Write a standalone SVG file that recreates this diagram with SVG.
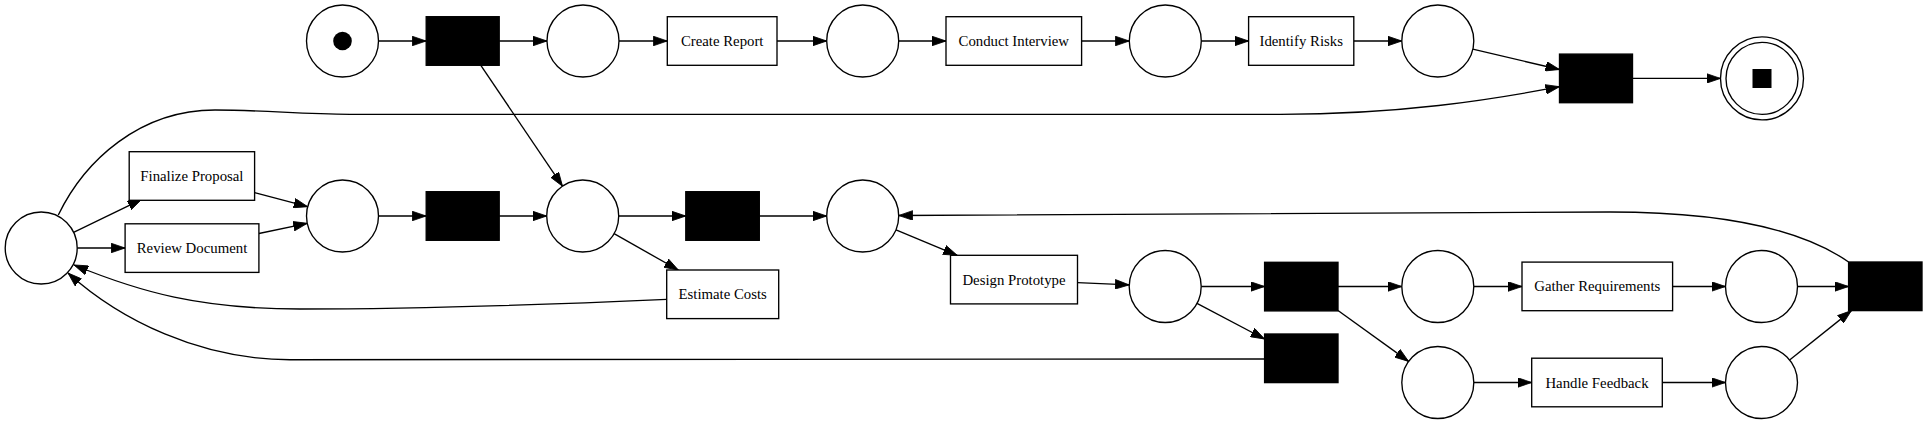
<svg xmlns="http://www.w3.org/2000/svg" width="1927" height="424" viewBox="0 0 1927 424">
<defs>
<style>
.pl{fill:#fff;stroke:#000;stroke-width:1.35}
.tr{fill:#000;stroke:#000;stroke-width:1.35}
.bx{fill:#fff;stroke:#000;stroke-width:1.35}
.lb{font-family:"Liberation Serif","Times New Roman",serif;font-size:14.8px;fill:#000;text-anchor:middle}
.ed{fill:none;stroke:#000;stroke-width:1.35;marker-end:url(#ah)}
</style>
<marker id="ah" markerUnits="userSpaceOnUse" markerWidth="14" markerHeight="10" viewBox="0 0 13.5 9.2" refX="13.5" refY="4.6" orient="auto">
<path d="M0,0 L13.5,4.6 L0,9.2 z" fill="#000" stroke="#000" stroke-width="0.8"/>
</marker>
</defs>
<rect width="1927" height="424" fill="#fff"/>
<g id="connectors">
<path class="ed" d="M378.5,41 L426.2,41"/>
<path class="ed" d="M499.2,41 L547,41"/>
<path class="ed" d="M619,41 L667.3,41"/>
<path class="ed" d="M777,41 L826.7,41"/>
<path class="ed" d="M898.7,41 L946,41"/>
<path class="ed" d="M1081.6,41 L1129.3,41"/>
<path class="ed" d="M1201.3,41 L1248.6,41"/>
<path class="ed" d="M1353.8,41 L1401.8,41"/>
<path class="ed" d="M1472.8,49.2 L1559.5,69.5"/>
<path class="ed" d="M1632.5,78.4 L1720.5,78.4"/>
<path class="ed" d="M481,65.7 L562.5,186.2"/>
<path class="ed" d="M58.3,215 C85,160 140,110 215,110 C265,110 300,114.3 350,114.3 L1280,114.3 C1400,114.3 1490,100 1559.5,86.7"/>
<path class="ed" d="M73.6,232.3 L141.7,199.3"/>
<path class="ed" d="M77.2,248 L125.1,248"/>
<path class="ed" d="M254.6,192.7 L307.7,206.7"/>
<path class="ed" d="M258.9,233.5 L307.3,223.3"/>
<path class="ed" d="M378.5,216 L426.2,216"/>
<path class="ed" d="M499.2,216 L546.7,216"/>
<path class="ed" d="M618.7,216 L685.8,216"/>
<path class="ed" d="M614.1,233.7 L678.3,270"/>
<path class="ed" d="M759.3,216 L826.7,216"/>
<path class="ed" d="M666.7,299.3 C540,305 400,309 300,309 C200,309 140,292 74,265"/>
<path class="ed" d="M896,229.8 L957.2,255.3"/>
<path class="ed" d="M1077.5,282.7 L1129.2,284.9"/>
<path class="ed" d="M1201.2,286.5 L1264.6,286.5"/>
<path class="ed" d="M1197,303.3 L1264.6,339"/>
<path class="ed" d="M1338,286.5 L1401.8,286.5"/>
<path class="ed" d="M1338,310.5 L1408.6,361.4"/>
<path class="ed" d="M1264.6,359 L290,359.7 C200,359.7 120,320 68,273"/>
<path class="ed" d="M1474,286.5 L1522,286.5"/>
<path class="ed" d="M1672.6,286.5 L1725.5,286.5"/>
<path class="ed" d="M1797.5,286.5 L1848.6,286.5"/>
<path class="ed" d="M1474,382.5 L1531.7,382.5"/>
<path class="ed" d="M1662.3,382.5 L1725.5,382.5"/>
<path class="ed" d="M1789.6,360 L1851.4,310.6"/>
<path class="ed" d="M1848.6,262 C1800,228 1720,212 1610,212 L898.7,215.5"/>
</g>
<g id="p_start"><circle class="pl" cx="342.5" cy="41" r="36"/><circle cx="342.5" cy="41" r="9.3" fill="#000"/></g>
<g id="t1"><rect class="tr" x="426.2" y="16.7" width="73" height="48.6"/></g>
<g id="p1"><circle class="pl" cx="583" cy="41" r="36"/></g>
<g id="create_report"><rect class="bx" x="667.3" y="16.7" width="109.7" height="48.6"/><text class="lb" x="722.2" y="46">Create Report</text></g>
<g id="p2"><circle class="pl" cx="862.7" cy="41" r="36"/></g>
<g id="conduct_interview"><rect class="bx" x="946" y="16.7" width="135.6" height="48.6"/><text class="lb" x="1013.8" y="46">Conduct Interview</text></g>
<g id="p3"><circle class="pl" cx="1165.3" cy="41" r="36"/></g>
<g id="identify_risks"><rect class="bx" x="1248.6" y="16.7" width="105.2" height="48.6"/><text class="lb" x="1301.2" y="46">Identify Risks</text></g>
<g id="p4"><circle class="pl" cx="1437.8" cy="41" r="36"/></g>
<g id="t_final"><rect class="tr" x="1559.5" y="54.1" width="73" height="48.6"/></g>
<g id="p_end"><circle class="pl" cx="1762" cy="78.4" r="41.5"/><circle class="pl" cx="1762" cy="78.4" r="36"/><rect x="1752.5" y="69" width="19" height="19" fill="#000"/></g>
<g id="p_left"><circle class="pl" cx="41.2" cy="248" r="36"/></g>
<g id="finalize_proposal"><rect class="bx" x="129.2" y="151.7" width="125.4" height="48.6"/><text class="lb" x="191.9" y="181">Finalize Proposal</text></g>
<g id="review_document"><rect class="bx" x="125.1" y="223.8" width="133.8" height="48.6"/><text class="lb" x="192" y="253">Review Document</text></g>
<g id="p6"><circle class="pl" cx="342.5" cy="216" r="36"/></g>
<g id="t2"><rect class="tr" x="426.2" y="191.7" width="73" height="48.6"/></g>
<g id="p7"><circle class="pl" cx="582.7" cy="216" r="36"/></g>
<g id="t3"><rect class="tr" x="685.8" y="191.7" width="73.5" height="48.6"/></g>
<g id="estimate_costs"><rect class="bx" x="666.7" y="270" width="112" height="48.6"/><text class="lb" x="722.7" y="299.3">Estimate Costs</text></g>
<g id="p8"><circle class="pl" cx="862.7" cy="216" r="36"/></g>
<g id="design_prototype"><rect class="bx" x="950.5" y="255.3" width="127" height="48.6"/><text class="lb" x="1014" y="284.5">Design Prototype</text></g>
<g id="p9"><circle class="pl" cx="1165.2" cy="286.5" r="36"/></g>
<g id="t4"><rect class="tr" x="1264.6" y="262.3" width="73.4" height="48.6"/></g>
<g id="t5"><rect class="tr" x="1264.6" y="334" width="73.4" height="48.6"/></g>
<g id="p10"><circle class="pl" cx="1437.8" cy="286.5" r="36"/></g>
<g id="gather_requirements"><rect class="bx" x="1522" y="262.1" width="150.6" height="48.6"/><text class="lb" x="1597.3" y="291.4">Gather Requirements</text></g>
<g id="p11"><circle class="pl" cx="1761.5" cy="286.5" r="36"/></g>
<g id="t6"><rect class="tr" x="1848.6" y="262" width="73.4" height="48.6"/></g>
<g id="p12"><circle class="pl" cx="1437.8" cy="382.5" r="36"/></g>
<g id="handle_feedback"><rect class="bx" x="1531.7" y="358.2" width="130.6" height="48.6"/><text class="lb" x="1597" y="387.5">Handle Feedback</text></g>
<g id="p13"><circle class="pl" cx="1761.5" cy="382.5" r="36"/></g>
</svg>
